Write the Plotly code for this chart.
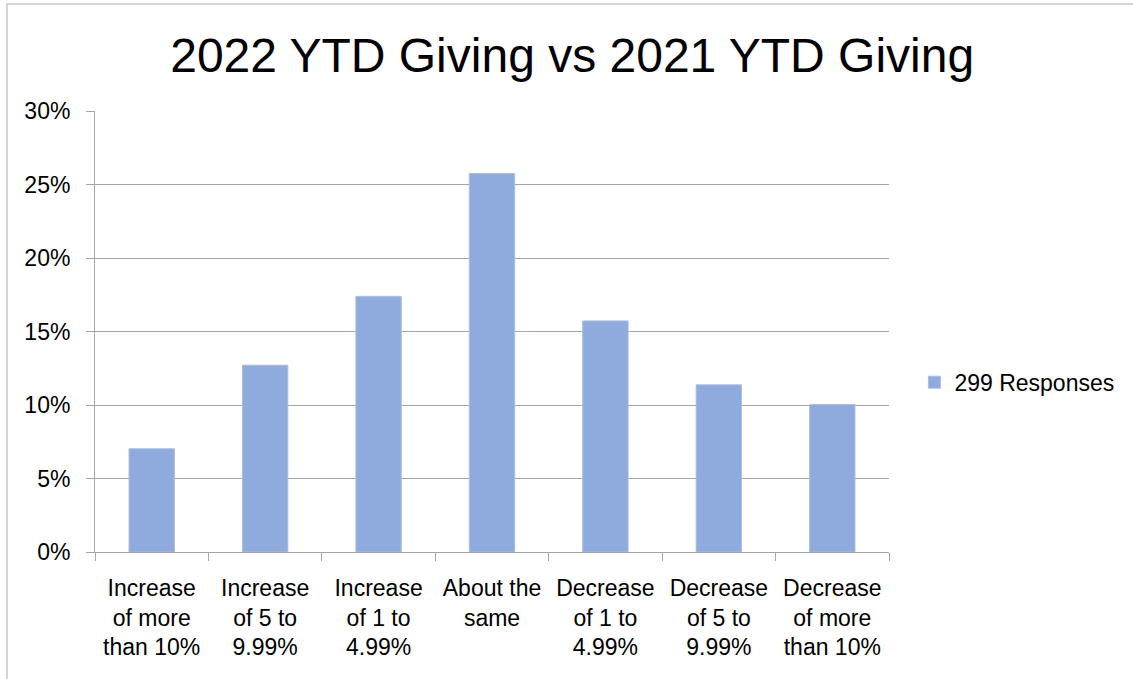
import plotly.graph_objects as go

categories = [
    "Increase<br>of more<br>than 10%",
    "Increase<br>of 5 to<br>9.99%",
    "Increase<br>of 1 to<br>4.99%",
    "About the<br>same",
    "Decrease<br>of 1 to<br>4.99%",
    "Decrease<br>of 5 to<br>9.99%",
    "Decrease<br>of more<br>than 10%",
]
values = [0.0702, 0.1271, 0.1739, 0.2575, 0.1572, 0.1137, 0.1003]
series_name = "299 Responses"
title_text = "2022 YTD Giving vs 2021 YTD Giving"
ytick_vals = [0, 0.05, 0.10, 0.15, 0.20, 0.25, 0.30]
ytick_text = ["0%", "5%", "10%", "15%", "20%", "25%", "30%"]

FONT = "Liberation Sans"
GRID = "#a6a6a6"

fig = go.Figure()
fig.add_trace(go.Bar(
    x=categories, y=values, name=series_name,
    marker=dict(color="#8faadc", line=dict(color="#a9bde6", width=1)),
    showlegend=True,
))

fig.update_layout(
    width=1133, height=679,
    margin=dict(l=95, r=244, t=111, b=127),
    paper_bgcolor="white", plot_bgcolor="white",
    bargap=0.6,
    title=dict(text=title_text, x=0.505, xanchor="center", y=0.919, yanchor="middle",
               font=dict(family=FONT, size=48, color="black")),
    font=dict(family=FONT, color="black"),
    legend=dict(x=1.032, xanchor="left", y=0.385, yanchor="middle",
                font=dict(family=FONT, size=23, color="black"),
                bgcolor="rgba(0,0,0,0)"),
    xaxis=dict(
        showgrid=False, showline=True, linecolor=GRID, linewidth=1,
        ticks="outside", tickson="boundaries", ticklen=8, tickcolor=GRID,
        tickfont=dict(family=FONT, size=23, color="black"),
        ticklabelstandoff=15,
    ),
    yaxis=dict(
        range=[0, 0.30], tickvals=ytick_vals, ticktext=ytick_text,
        showgrid=True, gridcolor=GRID, gridwidth=1,
        showline=True, linecolor=GRID, linewidth=1,
        ticks="outside", ticklen=8, tickcolor=GRID,
        zeroline=False,
        tickfont=dict(family=FONT, size=23, color="black"),
        ticklabelstandoff=11,
    ),
    shapes=[dict(type="rect", xref="paper", yref="paper",
                 x0=(7 - 95) / 794, x1=(1160 - 95) / 794,
                 y0=(552 - 700) / 441, y1=(552 - 4) / 441,
                 line=dict(color="#c8c8c8", width=1.5), fillcolor="rgba(0,0,0,0)",
                 layer="below")],
)

fig.write_html("out.html", config={"displayModeBar": False},
               post_script="document.body.style.margin='0px';")
